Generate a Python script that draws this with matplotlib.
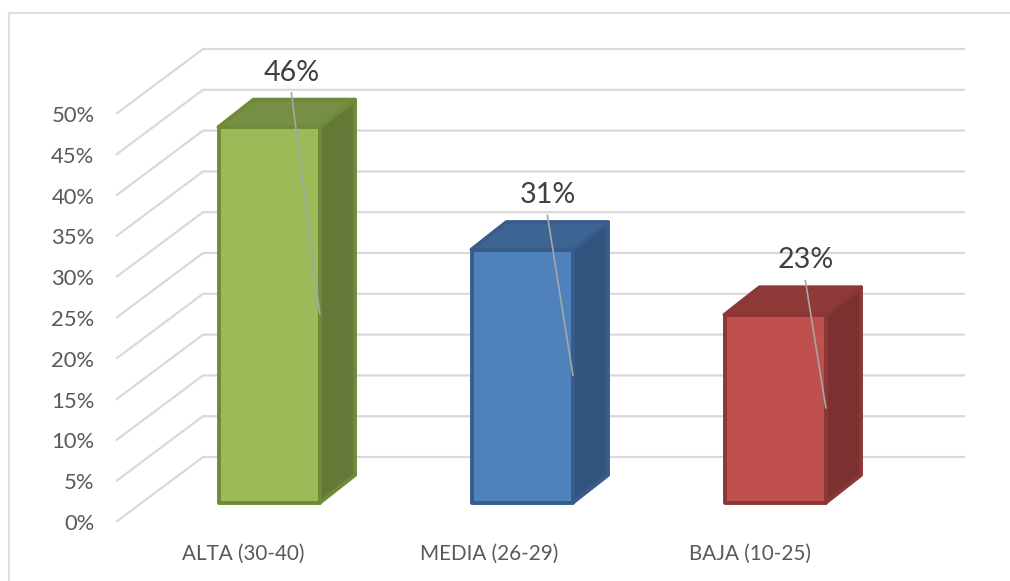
import matplotlib
matplotlib.use('Agg')
import matplotlib.pyplot as plt
from matplotlib.lines import Line2D
from matplotlib.patches import Polygon

plt.rcParams['font.family'] = ['Lato', 'DejaVu Sans']

categories = ['ALTA (30-40)', 'MEDIA (26-29)', 'BAJA (10-25)']
values = [46, 31, 23]
y_ticks = [0, 5, 10, 15, 20, 25, 30, 35, 40, 45, 50]
y_tick_labels = ['0%', '5%', '10%', '15%', '20%', '25%', '30%', '35%', '40%', '45%', '50%']

front_colors = ['#9BBB59', '#4F81BD', '#C0504D']
top_colors = ['#778F45', '#3D6594', '#8F3A38']
side_colors = ['#647838', '#31547E', '#7C3130']
edge_colors = ['#6F8A38', '#385D8A', '#8A3735']
grid_color = '#D9D9D9'

W, H = 1010, 581
X_SCALE = 253.0   # px per category
Y_SCALE = 8.16    # px per percent
FIRST_BAR_PX = 269.25

# 3d offsets, px converted to data units
back_dx, back_dy = 87 / X_SCALE, 65 / Y_SCALE
bar_half = 50.75 / X_SCALE
bar_base = 19.5 / Y_SCALE
bar_dx, bar_dy = 35 / X_SCALE, 27.5 / Y_SCALE

# where the labels sit relative to the bars (px)
label_dx = [22, 25, 30]
tick_label_px = [243, 489.5, 750]

fig = plt.figure(figsize=(W / 100, H / 100), dpi=100, facecolor='white')
ax = fig.add_axes([116 / W, 1 - 522 / H, 762 / W, 408 / H])
ax.set_xlim(-153.25 / X_SCALE, (762 - 153.25) / X_SCALE)
ax.set_ylim(0, 50)
ax.patch.set_visible(False)
for s in ax.spines.values():
    s.set_visible(False)

ax.set_yticks(y_ticks)
ax.set_yticklabels(y_tick_labels, fontsize=15.8, color='#595959')
ax.set_xticks([(p - FIRST_BAR_PX) / X_SCALE for p in tick_label_px])
ax.set_xticklabels(categories, fontsize=14.9, color='#595959')
ax.tick_params(axis='y', length=0, pad=15.6)
ax.tick_params(axis='x', length=0, pad=16)

# floor/back gridlines
x_left = ax.get_xlim()[0]
x_right = ax.get_xlim()[1]
for t in y_ticks:
    ax.plot([x_left, x_left + back_dx, x_right + back_dx],
            [t, t + back_dy, t + back_dy],
            color=grid_color, lw=1.6, clip_on=False, zorder=1,
            solid_joinstyle='miter', solid_capstyle='butt')

for i, val in enumerate(values):
    l, r = i - bar_half, i + bar_half
    b, t = bar_base, bar_base + val
    style = dict(edgecolor=edge_colors[i], lw=2.8, joinstyle='round',
                 clip_on=False, zorder=3)
    ax.add_patch(Polygon([(r, b), (r + bar_dx, b + bar_dy),
                          (r + bar_dx, t + bar_dy), (r, t)],
                         facecolor=side_colors[i], **style))
    ax.add_patch(Polygon([(l, t), (r, t), (r + bar_dx, t + bar_dy),
                          (l + bar_dx, t + bar_dy)],
                         facecolor=top_colors[i], **style))
    ax.add_patch(Polygon([(l, b), (r, b), (r, t), (l, t)],
                         facecolor=front_colors[i], **style))

    # data label with leader line down to the bar's mid height
    lx = i + label_dx[i] / X_SCALE
    ly = t + 35 / Y_SCALE
    ax.plot([lx, r], [ly, bar_base + val / 2], color='#A6A6A6', lw=1.2,
            clip_on=False, zorder=4, solid_capstyle='butt')
    ax.text(lx + 0.5 / X_SCALE, ly + 19.5 / Y_SCALE, f'{val}%', fontsize=20.6,
            color='#404040', ha='center', va='center', zorder=5)

# chart frame, only top and left show
fig.add_artist(Line2D([1.0, 8.5 / W, 8.5 / W], [1 - 12.5 / H, 1 - 12.5 / H, 0],
                      color='#DEDEDE', lw=1.5, solid_joinstyle='miter'))

fig.savefig('out.png', dpi=100)
